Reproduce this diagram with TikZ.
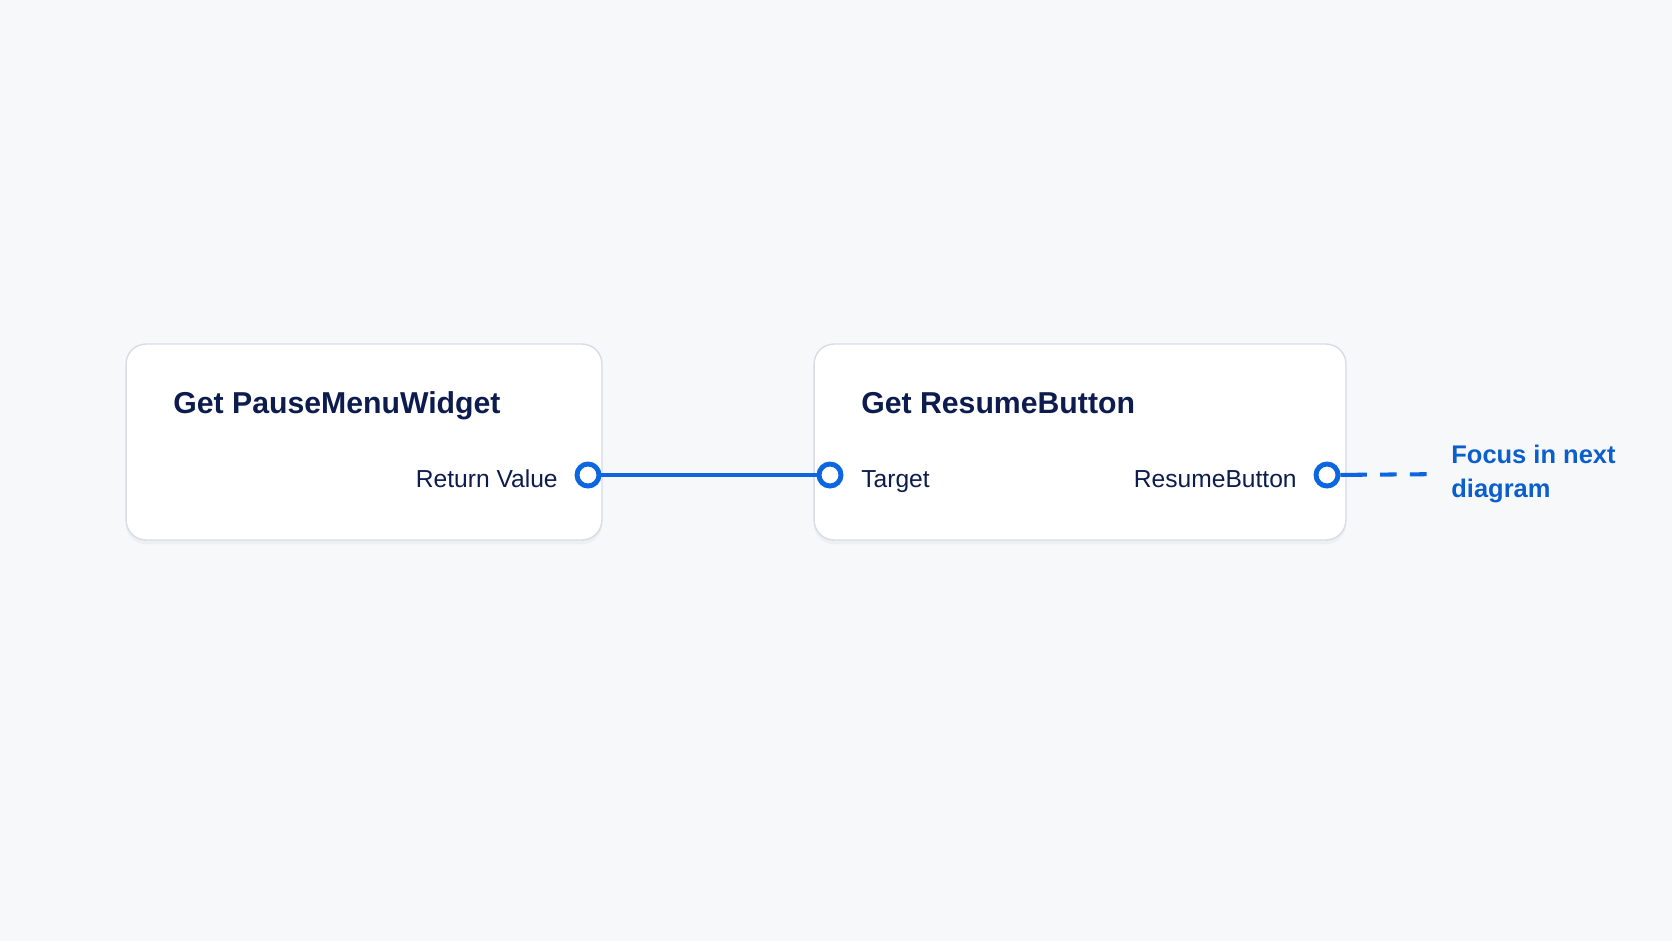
\documentclass[tikz,border=0pt]{standalone}
\usepackage{fontspec}
\setmainfont{Liberation Sans}
\usepackage{xcolor}
\usetikzlibrary{positioning,shapes,shadows,arrows}

\definecolor{bgcol}{HTML}{F7F8FA}
\definecolor{boxline}{HTML}{D8DCE3}
\definecolor{navy}{HTML}{0C1C4E}
\definecolor{pinblue}{HTML}{0B66E0}
\definecolor{notecol}{HTML}{0B5FCC}

\begin{document}
\begin{tikzpicture}[x=0.02cm,y=-0.02cm]
\tikzstyle{every node}+=[inner sep=0pt]
\tikzstyle{nodebox}=[draw=boxline, line width=0.8pt, fill=white, rounded corners=0.4cm,
  minimum height=3.92cm, drop shadow={shadow xshift=0pt, shadow yshift=-2.5pt, opacity=0.07}]
\tikzstyle{title}=[text=navy, font=\fontsize{17.2}{20}\selectfont\bfseries, anchor=base west]
\tikzstyle{portlabel}=[text=navy, font=\fontsize{14}{17}\selectfont]
\tikzstyle{pin}=[circle, draw=pinblue, line width=2.8pt, fill=white, minimum size=0.44cm]
\tikzstyle{wire}=[pinblue, line width=2.3pt]
\fill [bgcol] (0,0) rectangle (1672,941);
% nodes
\node [nodebox, minimum width=9.52cm] (getpause) at (364,442) {};
\node [nodebox, minimum width=10.64cm] (getresume) at (1080,442) {};
\node [title] (pausetitle) at (173,413) {Get PauseMenuWidget};
\node [title] (resumetitle) at (861,413) {Get ResumeButton};
\node [portlabel, anchor=base east] (retlabel) at (558,487) {Return Value};
\node [portlabel, anchor=base west] (tgtlabel) at (861,487) {Target};
\node [portlabel, anchor=base east] (btnlabel) at (1297,487) {ResumeButton};
\node [pin] (retpin) at (588,475) {};
\node [pin] (tgtpin) at (830,475) {};
\node [pin] (btnpin) at (1327,475) {};
\node [text=notecol, font=\fontsize{14.5}{19.5}\selectfont\bfseries, align=left, anchor=west]
  (nextnote) at (1451,474) {Focus in next\\diagram};
% wires
\draw [wire] (retpin) -- (tgtpin);
\draw [wire, dash pattern=on 15pt off 7.5pt on 9.5pt off 7.5pt on 9.5pt off 20pt, shorten >=13pt]
  (btnpin) -- (nextnote.west);
\end{tikzpicture}
\end{document}
